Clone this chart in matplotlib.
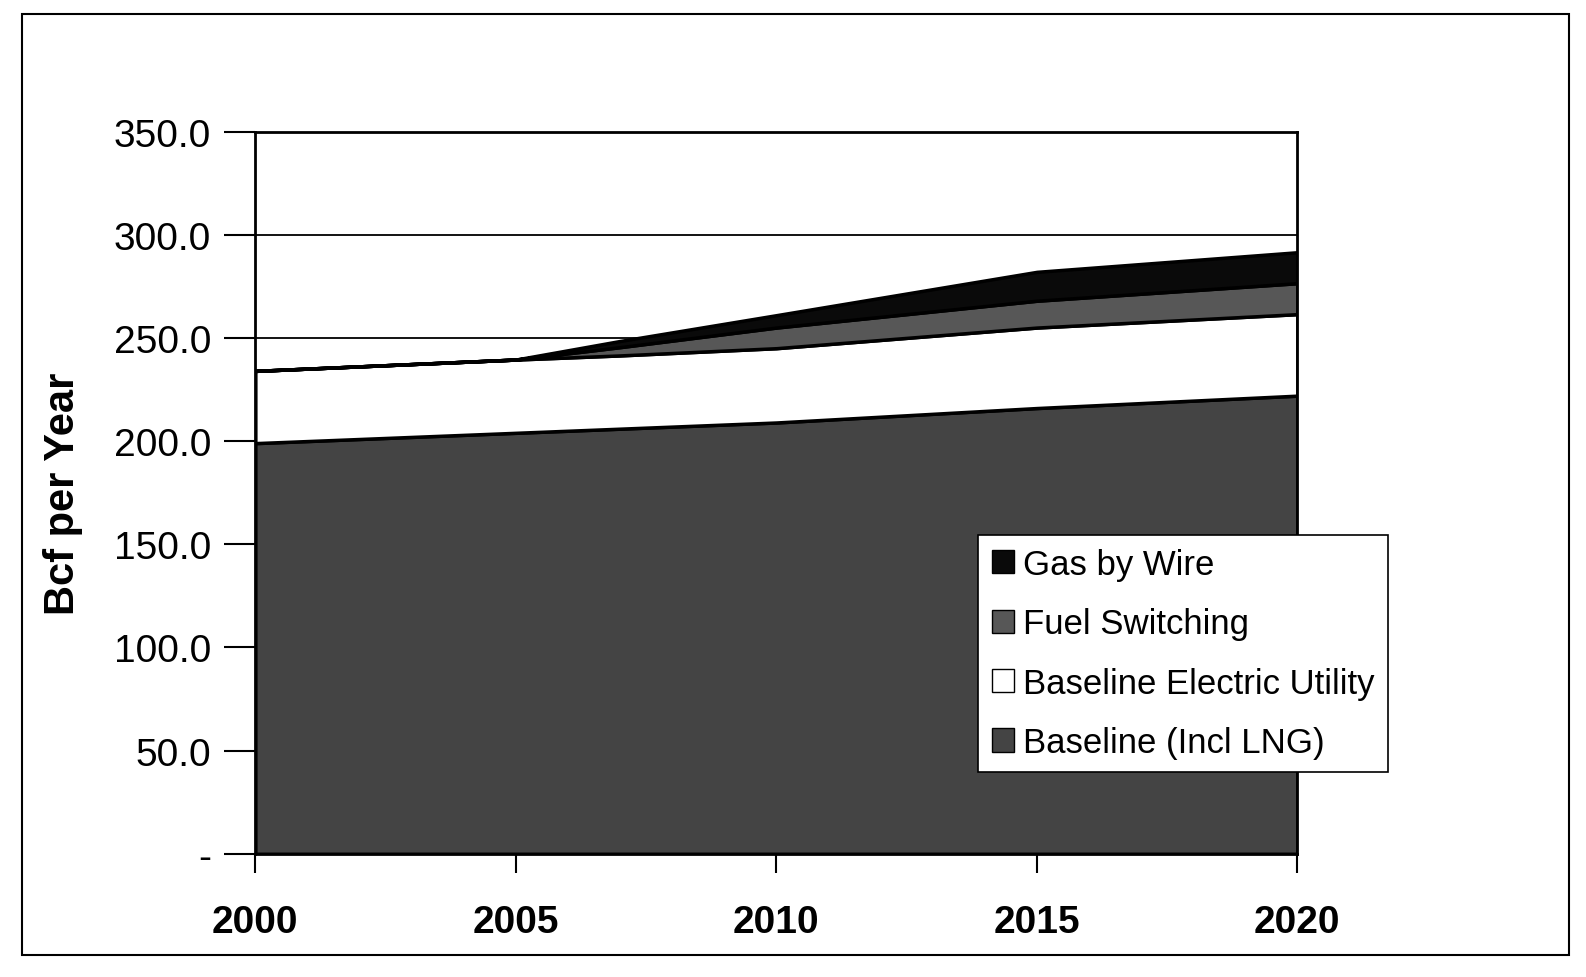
import matplotlib.pyplot as plt
from matplotlib.patches import Patch, Rectangle

years = [2000, 2005, 2007, 2010, 2015, 2020]
baseline = [199, 204, 206, 209, 216, 222]
electric = [35, 35.5, 35.5, 36, 39, 39.5]
fuel_switching = [0, 0, 4, 10, 13, 15]
gas_by_wire = [0, 0, 3, 6, 14, 15]

labels = ['Baseline (Incl LNG)', 'Baseline Electric Utility', 'Fuel Switching', 'Gas by Wire']
colors = ['#444444', '#ffffff', '#575757', '#0a0a0a']

plt.rcParams['font.family'] = ['Liberation Sans', 'DejaVu Sans']

fig = plt.figure(figsize=(15.86, 9.78), dpi=100)
ax = fig.add_axes([0.161, 0.126, 0.657, 0.7385])

# outer border of the figure
fig.patches.append(Rectangle((0.014, 0.022), 0.975, 0.963, transform=fig.transFigure,
                             fill=False, edgecolor='black', linewidth=1.5))

ax.yaxis.grid(True, color='black', linewidth=1.3, zorder=0)
ax.set_axisbelow(True)

series = [baseline, electric, fuel_switching, gas_by_wire]
ax.stackplot(years, *series, colors=colors, edgecolor='black', linewidth=2.5, zorder=2)

ax.set_xlim(2000, 2020)
ax.set_ylim(0, 350)
ax.set_xticks([2000, 2005, 2010, 2015, 2020])
ax.set_xticklabels(['2000', '2005', '2010', '2015', '2020'], fontsize=28, fontweight='bold')
yt = [0, 50, 100, 150, 200, 250, 300, 350]
ax.set_yticks(yt)
ax.set_yticklabels(['-'] + ['%.1f' % v for v in yt[1:]], fontsize=28)
ax.tick_params(axis='y', length=22, width=1.5, pad=10)
ax.tick_params(axis='x', length=14, width=1.5, pad=22)
for s in ax.spines.values():
    s.set_linewidth(2)

ax.set_ylabel('Bcf per Year', fontsize=30, fontweight='bold', labelpad=22)

handles = [Patch(facecolor=colors[i], edgecolor='black', label=labels[i]) for i in range(3, -1, -1)]
leg = ax.legend(handles=handles, loc='upper left', bbox_to_anchor=(0.694, 0.4415),
                borderaxespad=0, prop={'size': 25},
                fancybox=False, framealpha=1,
                handlelength=0.65, handleheight=0.65, handletextpad=0.25,
                labelspacing=0.76, borderpad=0.38)
leg.get_frame().set_edgecolor('black')
leg.get_frame().set_linewidth(1.2)
leg.set_zorder(5)

fig.savefig('out.png', dpi=100)
